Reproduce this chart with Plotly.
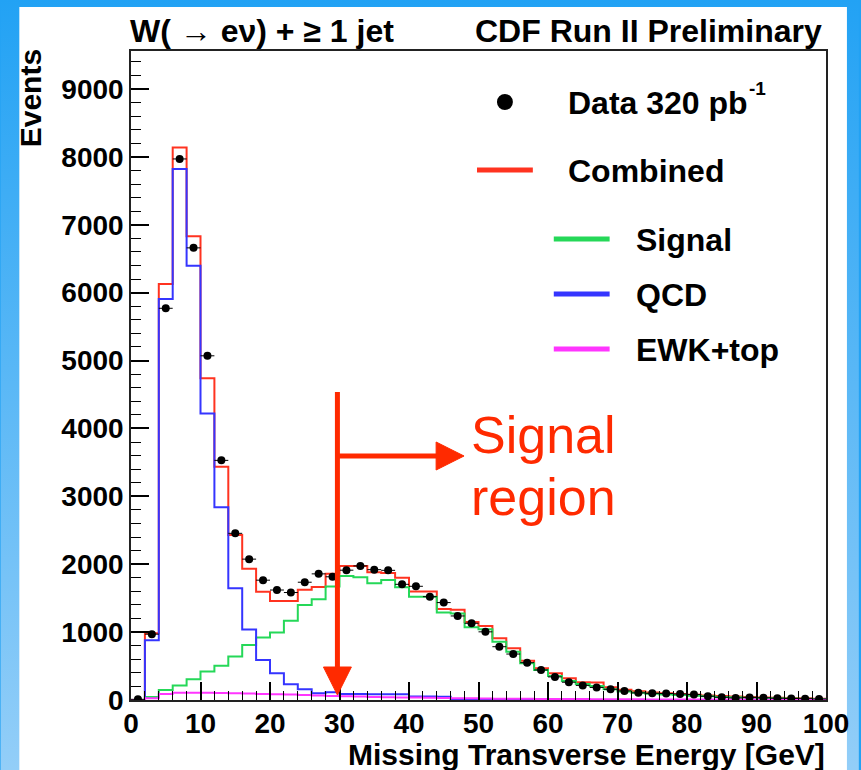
import base64
import plotly.graph_objects as go

# ---------------- data ----------------
bin_edges = [0, 2, 4, 6, 8, 10, 12, 14, 16, 18, 20, 22, 24, 26, 28, 30, 32, 34, 36, 38, 40,
             42, 44, 46, 48, 50, 52, 54, 56, 58, 60, 62, 64, 66, 68, 70, 72, 74, 76, 78, 80,
             82, 84, 86, 88, 90, 92, 94, 96, 98, 100]

data_events = [10, 970, 5770, 7970, 6660, 5070, 3530, 2455, 2075, 1765,
               1620, 1583, 1735, 1858, 1815, 1912, 1975, 1920, 1910, 1704,
               1675, 1522, 1435, 1238, 1130, 1004, 785, 677, 550, 442,
               340, 262, 215, 185, 158, 134, 105, 98, 95, 88,
               82, 55, 40, 30, 38, 33, 26, 22, 20, 15]

combined = [0, 985, 6127, 8140, 6830, 4740, 3436, 2430, 1935, 1595,
            1460, 1460, 1625, 1665, 1860, 1975, 1975, 1880, 1870, 1800,
            1600, 1600, 1340, 1330, 1150, 1090, 908, 761, 580, 467,
            393, 320, 260, 258, 187, 150, 130, 112, 100, 88,
            78, 68, 58, 50, 44, 38, 33, 28, 24, 20]

signal = [0, 45, 147, 215, 305, 420, 505, 640, 810, 920,
          993, 1168, 1400, 1483, 1672, 1826, 1807, 1718, 1767, 1660,
          1521, 1521, 1290, 1275, 1071, 1041, 859, 712, 540, 442,
          353, 280, 236, 206, 157, 125, 108, 92, 82, 72,
          62, 54, 46, 40, 34, 30, 26, 22, 18, 15]

qcd = [0, 880, 5906, 7820, 6396, 4222, 2838, 1645, 1040, 589,
       393, 233, 157, 98, 113, 88, 88, 85, 85, 85,
       50, 50, 48, 10, 8, 5, 4, 3, 3, 2,
       2, 2, 1, 1, 1, 1, 1, 0, 0, 0,
       0, 0, 0, 0, 0, 0, 0, 0, 0, 0]

ewk_top = [0, 25, 90, 108, 108, 105, 102, 98, 95, 90,
           85, 80, 72, 66, 60, 55, 50, 46, 42, 38,
           35, 32, 29, 26, 24, 22, 20, 18, 17, 16,
           15, 14, 13, 12, 11, 10, 10, 9, 9, 8,
           8, 7, 7, 6, 6, 5, 5, 5, 4, 4]

bin_half_width = 1.0
x_ticks = [0, 10, 20, 30, 40, 50, 60, 70, 80, 90, 100]
y_ticks = [0, 1000, 2000, 3000, 4000, 5000, 6000, 7000, 8000, 9000]

# ---------------- geometry ----------------
W, H = 861, 770
L, R, T, B = 131, 828, 51, 700
X_MAX, Y_MAX = 100, 9560
FONT = "Liberation Sans, Arial, Helvetica, sans-serif"

RED = "#ff3320"
GREEN = "#25d858"
BLUE = "#3535ff"
MAGENTA = "#ff35ff"
ARROW_RED = "#ff2a00"


def px(x):
    return (x - L) / (R - L)


def py(y):
    return (B - y) / (B - T)


def gx(x):  # pixel -> data x
    return (x - L) / (R - L) * X_MAX


def gy(y):  # pixel -> data y
    return (B - y) / (B - T) * Y_MAX


fig = go.Figure()

centers = [(a + b) / 2 for a, b in zip(bin_edges[:-1], bin_edges[1:])]


def step(values, color, name):
    fig.add_trace(go.Scatter(
        x=bin_edges, y=list(values) + [values[-1]], mode="lines",
        line=dict(color=color, width=2, shape="hv"), name=name,
        showlegend=False, hoverinfo="skip"))


step(combined, RED, "Combined")
step(signal, GREEN, "Signal")
step(qcd, BLUE, "QCD")
step(ewk_top, MAGENTA, "EWK+top")

fig.add_trace(go.Scatter(
    x=centers, y=data_events, mode="markers", name="Data 320 pb-1",
    marker=dict(color="black", size=8),
    error_x=dict(type="constant", value=bin_half_width, thickness=1, width=0, color="black"),
    showlegend=False))

# ---------------- background ----------------
svg = ('<svg xmlns="http://www.w3.org/2000/svg" width="861" height="770">'
       '<defs><linearGradient id="g" x1="0" y1="0" x2="0" y2="1">'
       '<stop offset="0" stop-color="#22a2f4"/><stop offset="1" stop-color="#93cef8"/>'
       '</linearGradient></defs><rect width="861" height="770" fill="url(#g)"/></svg>')
src = "data:image/svg+xml;base64," + base64.b64encode(svg.encode()).decode()

shapes = []
shapes.append(dict(type="rect", xref="paper", yref="paper", x0=px(19), x1=px(849),
                   y0=py(7), y1=py(780), fillcolor="white", line=dict(width=0), layer="below"))

# signal-region arrows (data coordinates)
cut_x = 29.7
half_w = gx(L + 14)
shapes.append(dict(type="line", xref="x", yref="y", x0=cut_x, x1=cut_x,
                   y0=gy(392), y1=gy(670), line=dict(color=ARROW_RED, width=5)))
shapes.append(dict(type="path", xref="x", yref="y",
                   path=f"M {cut_x - half_w:.3f},{gy(667):.1f} L {cut_x + half_w:.3f},{gy(667):.1f} "
                        f"L {cut_x:.3f},{gy(695):.1f} Z",
                   fillcolor=ARROW_RED, line=dict(color=ARROW_RED, width=1)))
shapes.append(dict(type="line", xref="x", yref="y", x0=cut_x, x1=gx(440),
                   y0=gy(456), y1=gy(456), line=dict(color=ARROW_RED, width=5)))
shapes.append(dict(type="path", xref="x", yref="y",
                   path=f"M {gx(437):.3f},{gy(442):.1f} L {gx(437):.3f},{gy(470):.1f} "
                        f"L {gx(465):.3f},{gy(456):.1f} Z",
                   fillcolor=ARROW_RED, line=dict(color=ARROW_RED, width=1)))

# legend (manual)
shapes.append(dict(type="circle", xref="paper", yref="paper", x0=px(498), x1=px(514),
                   y0=py(110), y1=py(94), fillcolor="black", line=dict(width=0)))
legend_lines = [(478, 534, 170, RED), (555, 611, 239, GREEN), (555, 611, 294, BLUE),
                (555, 611, 349, MAGENTA)]
for x0, x1, yy, c in legend_lines:
    shapes.append(dict(type="line", xref="paper", yref="paper", x0=px(x0), x1=px(x1),
                       y0=py(yy), y1=py(yy), line=dict(color=c, width=5)))

annotations = []


def txt(text, x, y, size, xanchor="left", yanchor="middle", bold=True, color="black", angle=0):
    annotations.append(dict(text=text, x=px(x), y=py(y), xref="paper", yref="paper",
                            xanchor=xanchor, yanchor=yanchor, showarrow=False, textangle=angle,
                            font=dict(family=FONT, size=size, color=color,
                                      weight="bold" if bold else "normal"),
                            borderpad=0))


txt("W( → eν) + ≥ 1 jet", 129, 31, 32)
txt("CDF Run II Preliminary", 825, 31, 32, xanchor="right")
txt("Missing Transverse Energy [GeV]", 828, 754, 30, xanchor="right")
txt("Events", 31, 48, 30, xanchor="center", yanchor="top", angle=-90)

txt("Data 320 pb", 568, 103, 32)
txt("-1", 750, 88, 19)
txt("Combined", 568, 171, 32)
txt("Signal", 636, 240, 32)
txt("QCD", 636, 295, 32)
txt("EWK+top", 636, 350, 32)

txt("Signal", 471, 435, 52, bold=False, color=ARROW_RED)
txt("region", 471, 497, 52, bold=False, color=ARROW_RED)

tickfont = dict(family=FONT, size=28, color="black", weight="bold")

fig.update_layout(
    width=W, height=H,
    margin=dict(l=L, r=W - R, t=T, b=H - B, pad=0),
    paper_bgcolor="#22a2f4", plot_bgcolor="white",
    showlegend=False,
    shapes=shapes, annotations=annotations,
    images=[dict(source=src, xref="paper", yref="paper", x=px(0), y=py(0),
                 sizex=W / (R - L), sizey=H / (B - T), xanchor="left", yanchor="top",
                 sizing="stretch", layer="below")],
    xaxis=dict(range=[0, X_MAX], tickvals=x_ticks, ticks="inside", ticklen=18, tickwidth=1.5,
               tickcolor="black", showline=True, linecolor="#222", linewidth=1.5, mirror=True,
               showgrid=False, zeroline=False, tickfont=tickfont, ticklabelstandoff=-2,
               minor=dict(dtick=2, ticks="inside", ticklen=9, tickcolor="black", tickwidth=1)),
    yaxis=dict(range=[0, Y_MAX], tickvals=y_ticks, ticks="inside", ticklen=18, tickwidth=1.5,
               tickcolor="black", showline=True, linecolor="#222", linewidth=1.5, mirror=True,
               showgrid=False, zeroline=False, tickfont=tickfont,
               minor=dict(dtick=200, ticks="inside", ticklen=10, tickcolor="black", tickwidth=1)),
)

fig.write_html("out.html")
